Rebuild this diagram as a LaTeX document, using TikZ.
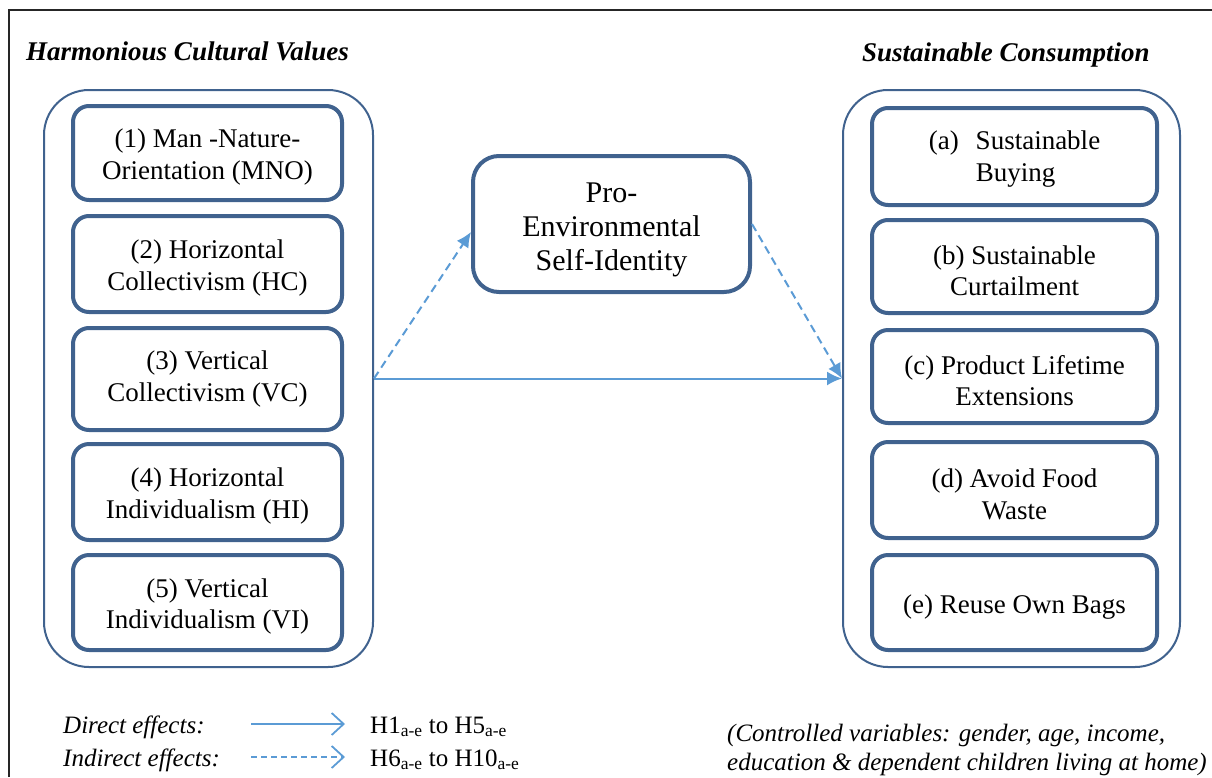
\documentclass[tikz,border=0pt]{standalone}
\usepackage{fontspec}
\setmainfont{Liberation Serif}
\usetikzlibrary{arrows.meta}
\definecolor{boxblue}{RGB}{64,98,142}
\definecolor{arrblue}{RGB}{91,155,213}
\newcommand\firstln{\rule{0pt}{27pt}}
\newcommand\profirst{\rule{0pt}{32pt}}
\begin{document}
\begin{tikzpicture}[x=1pt,y=-1pt,
  inbox/.style={draw=boxblue, line width=4pt, rounded corners=16pt, align=center,
    font=\fontsize{27}{31.5}\selectfont, inner sep=0pt},
  outbox/.style={draw=boxblue, line width=2pt, rounded corners=45pt, inner sep=0pt},
  probox/.style={draw=boxblue, line width=4pt, rounded corners=26pt, align=center,
    font=\fontsize{30}{34}\selectfont, inner sep=0pt},
  title/.style={anchor=base west, inner sep=0pt, font=\fontsize{27}{32}\selectfont\bfseries\itshape},
  legtext/.style={anchor=base west, inner sep=0pt, font=\fontsize{25}{30}\selectfont\itshape},
  hyptext/.style={anchor=base west, inner sep=0pt, font=\fontsize{25}{30}\selectfont},
  direct/.style={draw=arrblue, line width=2pt, -{Latex[length=15pt,width=14pt]}},
  indirect/.style={direct, dash pattern=on 8pt off 5pt},
  legdirect/.style={draw=arrblue, line width=1.6pt, -{Straight Barb[length=12pt,width=22pt,line width=1.8pt]}},
  legindirect/.style={legdirect, dash pattern=on 6pt off 4pt},
  frame/.style={draw=black!85, line width=1.6pt}
]
\useasboundingbox (0,0) rectangle (1212,777);
\draw[frame] (9,777) -- (9,10) -- (1212,10);

% titles
\node[title] (t1) at (26,60) {Harmonious Cultural Values};
\node[title] (t2) at (862,61) {Sustainable Consumption};

% outer containers
\node[outbox, minimum width=329pt, minimum height=577pt] (L) at (208.5,378.5) {};
\node[outbox, minimum width=337pt, minimum height=577pt] (R) at (1011.5,378.5) {};

% left inner boxes
\node[inbox, minimum width=269pt, minimum height=94pt]  (l1) at (207.5,153) {\firstln(1) Man -Nature-\\Orientation (MNO)};
\node[inbox, minimum width=269pt, minimum height=96pt]  (l2) at (207.5,264) {\firstln(2) Horizontal\\Collectivism (HC)};
\node[inbox, minimum width=269pt, minimum height=102pt] (l3) at (207.5,379) {(3) Vertical\\Collectivism (VC)};
\node[inbox, minimum width=269pt, minimum height=96pt]  (l4) at (207.5,492) {\firstln(4) Horizontal\\Individualism (HI)};
\node[inbox, minimum width=269pt, minimum height=95pt]  (l5) at (207.5,602.5) {\firstln(5) Vertical\\Individualism (VI)};

% right inner boxes
\node[inbox, minimum width=285pt, minimum height=97pt] (ra) at (1014.5,156.5)
  {\firstln(a)\hspace{17pt}\begin{tabular}[t]{@{}l@{}}Sustainable\\Buying\end{tabular}};
\node[inbox, minimum width=285pt, minimum height=93pt] (rb) at (1014.5,266.5) {\firstln(b) Sustainable\\Curtailment};
\node[inbox, minimum width=285pt, minimum height=93pt] (rc) at (1014.5,376.5) {\firstln(c) Product Lifetime\\Extensions};
\node[inbox, minimum width=285pt, minimum height=96pt] (rd) at (1014.5,490) {\firstln(d) Avoid Food\\Waste};
\node[inbox, minimum width=285pt, minimum height=95pt] (re) at (1014.5,602.5) {\firstln(e) Reuse Own Bags};

% mediator
\node[probox, minimum width=277pt, minimum height=136pt] (P) at (611.5,224) {\profirst Pro-\\Environmental\\Self-Identity};

% connectors
\draw[direct] (L.east) -- (R.west);
\draw[indirect] (L.east) -- ([yshift=-8pt]P.west);
\draw[indirect] (P.east) -- (R.west);

% legend
\node[legtext] (dl) at (63,733) {Direct effects:};
\node[legtext] (il) at (63,766) {Indirect effects:};
\coordinate (da) at (251,724);
\coordinate (db) at (345,724);
\coordinate (ia) at (251,757);
\coordinate (ib) at (345,757);
\draw[legdirect] (da) -- (db);
\draw[legindirect] (ia) -- (ib);
\node[hyptext] (h1) at (370,733) {H1\textsubscript{a-e} to H5\textsubscript{a-e}};
\node[hyptext] (h2) at (370,766) {H6\textsubscript{a-e} to H10\textsubscript{a-e}};

\node[legtext] (c1) at (727,741) {(Controlled variables: gender, age, income,};
\node[legtext] (c2) at (727,770) {education \& dependent children living at home)};
\end{tikzpicture}
\end{document}
